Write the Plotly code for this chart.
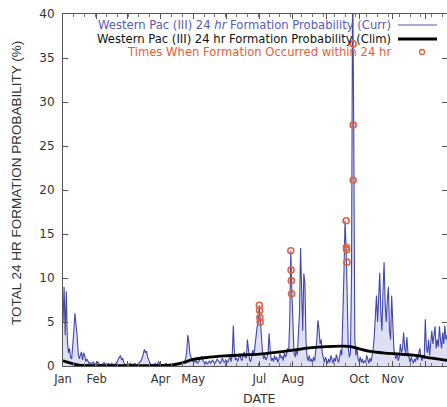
import plotly.graph_objects as go

# ---- data ----
month_starts = [0, 31, 59, 90, 120, 151, 181, 212, 243, 273, 304, 334]
month_labels = ["Jan", "Feb", "", "Apr", "May", "", "Jul", "Aug", "", "Oct", "Nov", ""]

curr_jan = [5, 9, 3.5, 8.5, 3, 1.5, 2, 1, 0.8, 2, 4, 6, 5, 3.5, 1.5, 0.8, 1.2, 1.6, 0.7, 1.5,
            1.2, 0.5, 0.8, 0.6, 0.3, 0.4, 0.2, 0.3, 0.5, 0.2, 0.3]
curr_feb = [0.2, 0.5, 0.3, 0.2, 0.1, 0.2, 0.3, 0.4, 0.2, 0.1, 0.2, 0.3, 0.2, 0.1, 0.3, 0.2,
            0.1, 0.2, 0.3, 0.5, 0.8, 1.0, 1.2, 0.7, 0.9, 0.4, 0.2, 0.1]
curr_mar = [0.1, 0.2, 0.1, 0.3, 0.2, 0.1, 0.2, 0.3, 0.2, 0.1, 0.2, 0.3, 0.4, 0.6, 0.9, 1.3,
            1.9, 1.5, 1.7, 1.0, 0.6, 0.4, 0.2, 0.1, 0.2, 0.1, 0.3, 0.2, 0.1, 0.5, 0.3]
curr_apr = [0.2, 0.1, 0.2, 0.1, 0.2, 0.3, 0.1, 0.2, 0.1, 0.2, 0.3, 0.2, 0.1, 0.2, 0.1, 0.2,
            0.3, 0.2, 0.4, 0.3, 0.2, 0.5, 0.4, 0.8, 1.5, 3.5, 2.8, 1.4, 0.8, 0.6]
curr_may = [0.5, 0.7, 0.4, 0.6, 0.3, 0.5, 0.8, 1.0, 1.1, 0.6, 0.4, 0.3, 0.5, 0.2, 0.4, 0.6,
            0.3, 0.5, 0.7, 0.4, 0.3, 0.5, 0.8, 0.6, 0.4, 0.3, 0.6, 0.9, 0.5, 0.4, 0.7]
curr_jun = [0.6, 0.4, 0.8, 1.0, 0.5, 1.2, 4.6, 1.5, 0.7, 0.9, 0.5, 1.1, 1.4, 0.8, 0.6, 1.2,
            1.6, 1.0, 0.9, 3.0, 1.3, 0.7, 0.5, 1.0, 1.8, 1.2, 2.5, 3.2, 4.5, 4.9]
curr_jul = [6.9, 5.0, 2.5, 1.5, 0.8, 1.2, 0.7, 0.9, 1.5, 3.7, 1.8, 0.6, 0.9, 0.5, 1.2, 0.7,
            1.0, 0.4, 0.8, 1.4, 0.9, 1.1, 0.6, 1.5, 1.0, 1.3, 2.0, 1.6, 5.0, 13.1, 8.2]
curr_aug = [4.0, 1.5, 1.0, 2.0, 1.2, 3.5, 6.0, 13.4, 7.5, 4.0, 10.5, 9.4, 3.0, 1.0, 0.6, 1.2,
            0.5, 0.8, 0.4, 1.0, 0.6, 1.5, 3.0, 5.2, 4.2, 2.5, 3.0, 1.5, 0.8, 0.4, 1.0]
curr_sep = [0.5, 0.3, 0.8, 0.4, 1.2, 0.6, 0.3, 0.9, 0.5, 1.3, 0.7, 0.4, 1.0, 1.8, 1.2, 5.0,
            10.5, 16.5, 13.5, 8.0, 2.0, 1.0, 1.5, 10.5, 45.0, 27.4, 3.0, 1.2, 2.0, 0.8]
curr_oct = [0.5, 1.0, 0.4, 0.8, 0.3, 0.6, 0.4, 1.2, 0.6, 0.3, 0.9, 0.5, 1.2, 2.0, 3.5, 6.5,
            8.0, 5.0, 9.0, 10.6, 6.0, 4.0, 8.5, 11.8, 7.0, 5.0, 7.5, 9.0, 4.0, 3.0, 8.0]
curr_nov = [4.5, 2.0, 1.2, 0.8, 1.5, 0.6, 1.0, 2.5, 1.5, 2.0, 3.8, 2.0, 1.5, 3.3, 1.5, 0.8,
            0.4, 1.0, 0.6, 0.3, 0.8, 0.5, 1.2, 0.7, 1.5, 2.0, 1.0, 0.6, 1.2, 0.8]
curr_dec = [5.3, 2.0, 1.5, 3.0, 1.2, 2.5, 4.0, 2.5, 3.5, 4.5, 2.0, 3.0, 2.2, 4.5, 3.0, 2.0,
            3.8, 2.5, 4.6, 3.0, 3.5, 2.5, 3.0, 2.0, 1.5, 2.2, 1.0, 1.8, 1.2, 0.8, 1.5]

clim_days = [0, 8, 15, 30, 60, 90, 100, 110, 120, 135, 150, 165, 181, 196, 212, 227, 243,
             258, 265, 273, 283, 295, 310, 325, 340, 354, 365]
clim_vals = [0.6, 0.3, 0.1, 0.05, 0.05, 0.05, 0.1, 0.35, 0.75, 1.0, 1.15, 1.25, 1.35, 1.55,
             1.8, 2.05, 2.2, 2.25, 2.2, 1.95, 1.65, 1.5, 1.35, 1.2, 0.9, 0.65, 0.55]

event_days = [181.0, 181.25, 181.5, 181.75, 210.0, 210.25, 210.5, 210.75,
              261.0, 261.25, 261.5, 261.75, 267.5, 267.5, 267.5]
event_vals = [6.9, 6.3, 5.5, 5.0, 13.1, 10.9, 9.7, 8.2,
              16.5, 13.5, 13.2, 11.8, 36.6, 27.4, 21.1]

curr_vals = (curr_jan + curr_feb + curr_mar + curr_apr + curr_may + curr_jun + curr_jul
             + curr_aug + curr_sep + curr_oct + curr_nov + curr_dec)
curr_days = list(range(len(curr_vals)))

# ---- styling ----
BLUE = "#4048aa"
LAV = "#8c8cd0"
ORANGE = "#e4603a"
GRAY = "#333333"
FONT = "DejaVu Sans, Verdana, sans-serif"
FONT2 = "Liberation Sans, Arial, sans-serif"

fig = go.Figure()
fig.add_trace(go.Scatter(x=curr_days, y=curr_vals, mode="lines", fill="tozeroy",
                         fillcolor="rgba(140,140,215,0.28)",
                         line=dict(color=BLUE, width=1.1), showlegend=False))
fig.add_trace(go.Scatter(x=clim_days, y=clim_vals, mode="lines",
                         line=dict(color="black", width=2.8, shape="spline"), showlegend=False))
fig.add_trace(go.Scatter(x=event_days, y=event_vals, mode="markers",
                         marker=dict(symbol="circle-open", size=6, color=ORANGE,
                                     line=dict(width=1.6, color=ORANGE)), showlegend=False))

# gnuplot-style legend (text right, key sample at right)
L, R, T, B = 63, 447, 14, 366
W, H = R - L, B - T
def px(x):
    return (x - L) / W
def py(y):
    return (B - y) / H

legend_rows = [
    ("Western Pac (III) 24 <i>hr</i> Formation Probability (Curr)", "#5a5ab8", 25),
    ("Western Pac (III) 24 hr Formation Probability (Clim)", "#111111", 39),
    ("Times When Formation Occurred within 24 hr", ORANGE, 52),
]
for txt, col, ypix in legend_rows:
    fig.add_annotation(x=px(393), y=py(ypix), xref="paper", yref="paper", text=txt,
                       showarrow=False, xanchor="right", yanchor="middle",
                       font=dict(family=FONT, size=11.6, color=col))
fig.add_shape(type="line", xref="paper", yref="paper", x0=px(398), x1=px(437),
              y0=py(25), y1=py(25), line=dict(color=LAV, width=1.5))
fig.add_shape(type="line", xref="paper", yref="paper", x0=px(398), x1=px(437),
              y0=py(39), y1=py(39), line=dict(color="black", width=3))
fig.add_shape(type="circle", xref="paper", yref="paper", x0=px(419.5), x1=px(424.5),
              y0=py(54.5), y1=py(49.5), line=dict(color=ORANGE, width=1.3))

# axis titles as free text
fig.add_annotation(x=px(16), y=py(183), xref="paper", yref="paper",
                   text="TOTAL 24 HR FORMATION PROBABILITY (%)", textangle=-90,
                   showarrow=False, xanchor="center", yanchor="middle",
                   font=dict(family=FONT2, size=13.5, color=GRAY))
fig.add_annotation(x=px(259), y=py(398), xref="paper", yref="paper", text="DATE",
                   showarrow=False, xanchor="center", yanchor="middle",
                   font=dict(family=FONT, size=12.5, color=GRAY))

fig.update_layout(
    width=447, height=407,
    margin=dict(l=L, r=447 - R, t=T, b=407 - B, autoexpand=False),
    paper_bgcolor="white", plot_bgcolor="white",
    font=dict(family=FONT, size=11, color=GRAY),
    xaxis=dict(range=[0, 354], tickmode="array", tickvals=month_starts, ticktext=month_labels,
               ticks="inside", ticklen=5, tickcolor="#555", showline=True, linecolor="#555",
               linewidth=1, mirror="ticks", showgrid=False, zeroline=False, automargin=False,
               minor=dict(ticks="inside", ticklen=3, tickcolor="#777", dtick=10, tick0=0,
                          showgrid=False),
               ticklabelstandoff=2, tickfont=dict(size=11.5)),
    yaxis=dict(range=[0, 40], dtick=5, ticks="inside", ticklen=5, tickcolor="#555",
               showline=True, linecolor="#555", linewidth=1, mirror="ticks", automargin=False,
               showgrid=False, zeroline=False, ticklabelstandoff=5,
               tickfont=dict(size=12)),
)

fig.write_html("out.html", config={"displayModeBar": False, "staticPlot": True},
               post_script="document.body.style.margin='0';document.body.style.overflow='hidden';")
